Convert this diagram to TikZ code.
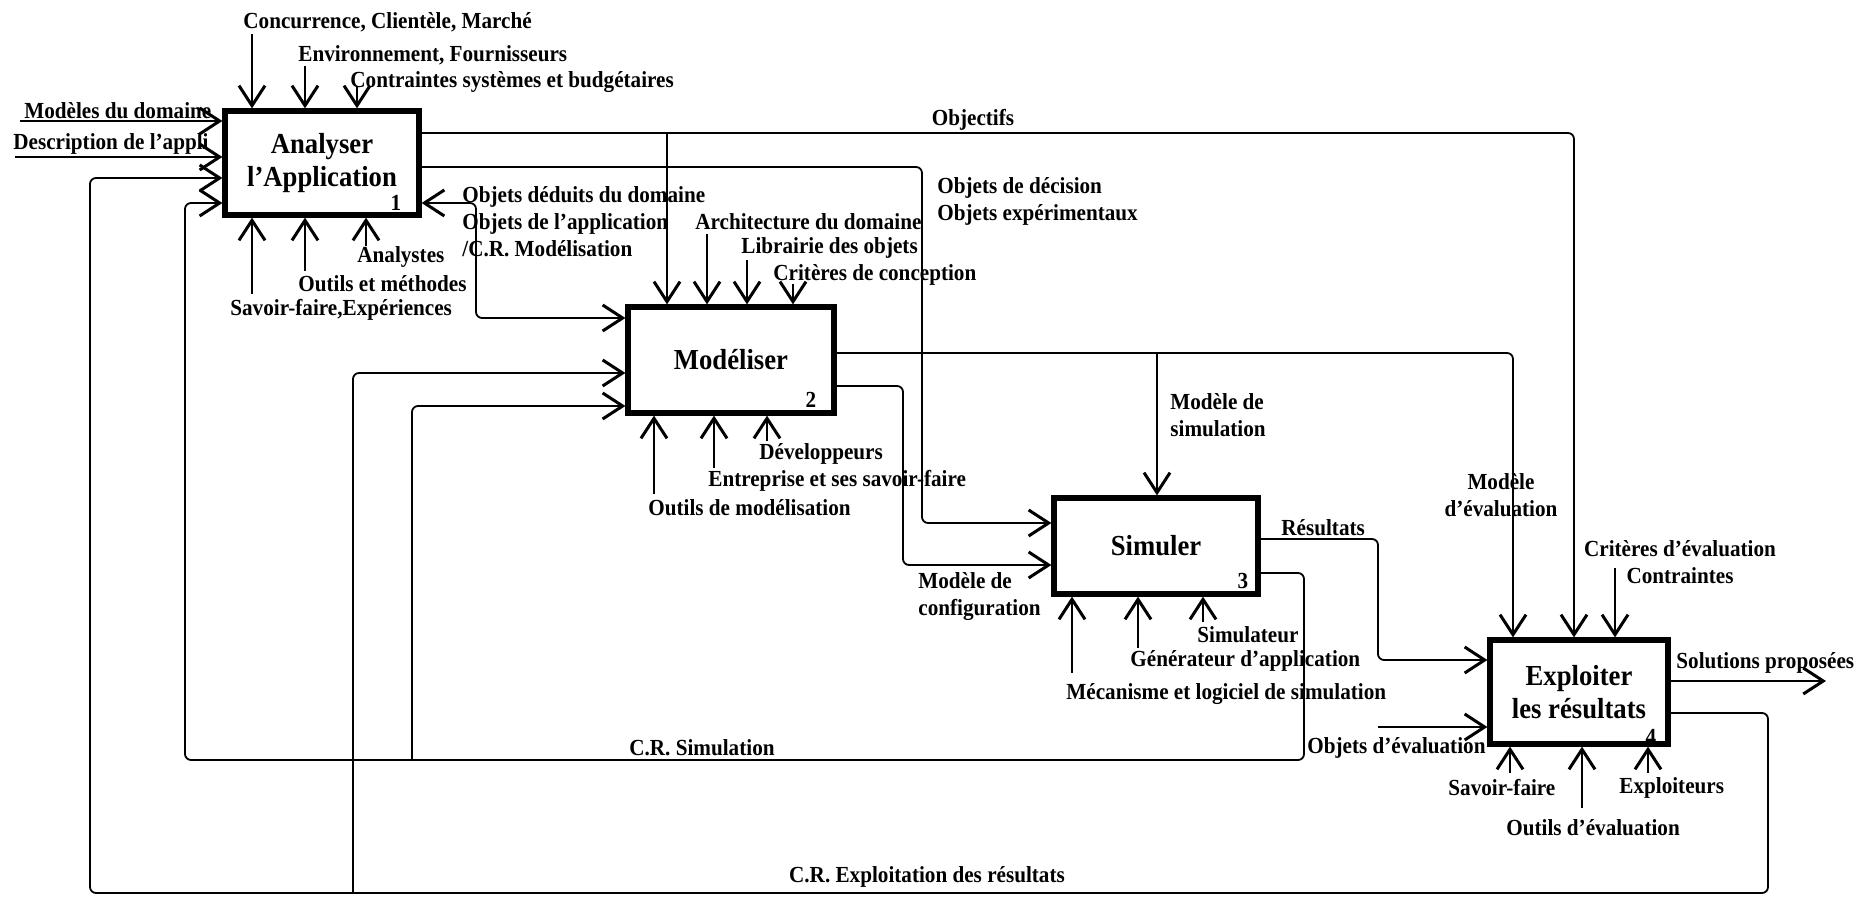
\documentclass[tikz,border=0pt]{standalone}
\usepackage{fontspec}
\setmainfont{Liberation Serif}[FakeStretch=0.92]
\usetikzlibrary{arrows.meta,calc}
\tikzset{
  >={Straight Barb[length=10pt,width=13pt,line width=1.5pt]},
  act/.style={draw, line width=2.6pt, align=center, inner sep=0pt,
              font=\bfseries\fontsize{14.5}{16.5}\selectfont},
  num/.style={font=\bfseries\fontsize{11.5}{13}\selectfont, inner sep=0pt},
  tag/.style={font=\bfseries\fontsize{11.5}{13.5}\selectfont, inner sep=1pt, align=left},
  arrow/.style={->, line width=0.9pt, rounded corners=3pt},
}

\begin{document}
\begin{tikzpicture}[x=0.5pt, y=-0.5pt]
  \useasboundingbox (0,0) rectangle (1859,897);

  % activities
  \node[act, minimum width=97pt, minimum height=52pt] (A1) at (322,163) {Analyser\\l'Application};
  \node[act, minimum width=103pt, minimum height=53pt] (A2) at (731,360) {Modéliser};
  \node[act, minimum width=102pt, minimum height=48pt] (A3) at (1156,546) {Simuler};
  \node[act, minimum width=89pt, minimum height=52pt] (A4) at (1579,692) {Exploiter\\les résultats};
  \node[num] (n1) at (396,203) {1};
  \node[num] (n2) at (811,400) {2};
  \node[num] (n3) at (1243,581) {3};
  \node[num] (n4) at (1651,737) {4};

  % box 1
  \node[tag, anchor=west] (tConc) at (241,22) {Concurrence, Clientèle, Marché};
  \node[tag, anchor=west] (tEnv) at (296,55) {Environnement, Fournisseurs};
  \node[tag, anchor=west] (tCtr) at (348,82) {Contraintes systèmes et budgétaires};
  \coordinate (cConc) at (252,34);
  \coordinate (cEnv) at (305,66);
  \coordinate (cCtr) at (357,86);
  \draw[arrow] (cConc) -- (cConc |- A1.north);
  \draw[arrow] (cEnv) -- (cEnv |- A1.north);
  \draw[arrow] (cCtr) -- (cCtr |- A1.north);

  \node[tag, anchor=south west] (tMod) at (22,121) {Modèles du domaine};
  \node[tag, anchor=south west] (tDesc) at (11,157) {Description de l'appli};
  \coordinate (iMod) at (20,121);
  \coordinate (iDesc) at (15,157);
  \draw[arrow] (iMod) -- (iMod -| A1.west);
  \draw[arrow] (iDesc) -- (iDesc -| A1.west);

  \node[tag, anchor=west] (tSav) at (228,310) {Savoir-faire,Expériences};
  \node[tag, anchor=west] (tOut) at (296,284) {Outils et méthodes};
  \node[tag, anchor=west] (tAna) at (355,257) {Analystes};
  \coordinate (mSav) at (252,294);
  \coordinate (mOut) at (305,271);
  \coordinate (mAna) at (366,246);
  \draw[arrow] (mSav) -- (mSav |- A1.south);
  \draw[arrow] (mOut) -- (mOut |- A1.south);
  \draw[arrow] (mAna) -- (mAna |- A1.south);

  \coordinate (jObj) at (667,133);
  \coordinate (kObj) at (1574,133);
  \draw[arrow] (A1.east |- kObj) -- (kObj) -- (kObj |- A4.north);
  \draw[arrow] (jObj) -- (jObj |- A2.north);
  \node[tag] (tObj) at (973,120) {Objectifs};

  \coordinate (kDec) at (922,167);
  \coordinate (kDec2) at (922,523);
  \draw[arrow] (A1.east |- kDec) -- (kDec) -- (kDec2) -- (kDec2 -| A3.west);
  \node[tag, anchor=west] (tDec) at (935,201) {Objets de décision\\Objets expérimentaux};

  \coordinate (kRet) at (476,203);
  \coordinate (kRet2) at (476,318);
  \draw[arrow, <->] (kRet -| A1.east) -- (kRet) -- (kRet2) -- (kRet2 -| A2.west);
  \node[tag, anchor=west] (tRet) at (460,222) {Objets déduits du domaine\\Objets de l'application\\/C.R. Modélisation};

  % box 2
  \node[tag, anchor=west] (tArc) at (693,222) {Architecture du domaine};
  \node[tag, anchor=west] (tLib) at (739,248) {Librairie des objets};
  \node[tag, anchor=west] (tCri) at (771,275) {Critères de conception};
  \coordinate (cArc) at (707,234);
  \coordinate (cLib) at (747,260);
  \coordinate (cCri) at (793,284);
  \draw[arrow] (cArc) -- (cArc |- A2.north);
  \draw[arrow] (cLib) -- (cLib |- A2.north);
  \draw[arrow] (cCri) -- (cCri |- A2.north);

  \node[tag, anchor=west] (tOmod) at (646,508) {Outils de modélisation};
  \node[tag, anchor=west] (tEnt) at (706,481) {Entreprise et ses savoir-faire};
  \node[tag, anchor=west] (tDev) at (757,454) {Développeurs};
  \coordinate (mOmod) at (654,494);
  \coordinate (mEnt) at (714,468);
  \coordinate (mDev) at (767,441);
  \draw[arrow] (mOmod) -- (mOmod |- A2.south);
  \draw[arrow] (mEnt) -- (mEnt |- A2.south);
  \draw[arrow] (mDev) -- (mDev |- A2.south);

  \coordinate (jSim) at (1157,353);
  \coordinate (kEva) at (1513,353);
  \draw[arrow] (A2.east |- kEva) -- (kEva) -- (kEva |- A4.north);
  \draw[arrow] (jSim) -- (jSim |- A3.north);
  \node[tag, anchor=west] (tSim) at (1168,415) {Modèle de\\simulation};
  \node[tag, align=center] (tEva) at (1501,495) {Modèle\\d'évaluation};

  \coordinate (kCfg) at (903,386);
  \coordinate (kCfg2) at (903,565);
  \draw[arrow] (A2.east |- kCfg) -- (kCfg) -- (kCfg2) -- (kCfg2 -| A3.west);
  \node[tag, anchor=west] (tCfg) at (916,597) {Modèle de\\configuration};

  % box 3
  \node[tag, anchor=west] (tMec) at (1064,694) {Mécanisme et logiciel de simulation};
  \node[tag, anchor=west] (tGen) at (1128,661) {Générateur d'application};
  \node[tag, anchor=west] (tSimu) at (1195,635) {Simulateur};
  \coordinate (mMec) at (1072,673);
  \coordinate (mGen) at (1138,648);
  \coordinate (mSimu) at (1203,622);
  \draw[arrow] (mMec) -- (mMec |- A3.south);
  \draw[arrow] (mGen) -- (mGen |- A3.south);
  \draw[arrow] (mSimu) -- (mSimu |- A3.south);

  \coordinate (kRes) at (1378,539);
  \coordinate (kRes2) at (1378,660);
  \draw[arrow] (A3.east |- kRes) -- (kRes) -- (kRes2) -- (kRes2 -| A4.west);
  \node[tag, anchor=west] (tRes) at (1279,528) {Résultats};

  \coordinate (kCrs) at (1304,573);
  \coordinate (kCrs2) at (1304,760);
  \coordinate (kCrs3) at (185,760);
  \coordinate (kCrs4) at (185,203);
  \coordinate (jCrs) at (412,760);
  \coordinate (jCrs2) at (412,406);
  \draw[arrow] (A3.east |- kCrs) -- (kCrs) -- (kCrs2) -- (kCrs3) -- (kCrs4) -- (kCrs4 -| A1.west);
  \draw[arrow] (jCrs) -- (jCrs2) -- (jCrs2 -| A2.west);
  \node[tag] (tCrs) at (702,748) {C.R. Simulation};

  % box 4
  \node[tag, align=center] (tCri4) at (1680,562) {Critères d'évaluation\\Contraintes};
  \coordinate (cCri4) at (1615,568);
  \draw[arrow] (cCri4) -- (cCri4 |- A4.north);

  \coordinate (iObjE) at (1378,727);
  \draw[arrow] (iObjE) -- (iObjE -| A4.west);
  \node[tag, anchor=west] (tObjE) at (1305,748) {Objets d'évaluation};

  \coordinate (oSol) at (1826,681);
  \draw[arrow] (A4.east |- oSol) -- (oSol);
  \node[tag, anchor=west] (tSol) at (1674,663) {Solutions proposées};

  \node[tag, anchor=west] (tSavE) at (1446,788) {Savoir-faire};
  \node[tag, anchor=west] (tOutE) at (1504,828) {Outils d'évaluation};
  \node[tag, anchor=west] (tExp) at (1617,788) {Exploiteurs};
  \coordinate (mSavE) at (1510,773);
  \coordinate (mOutE) at (1582,808);
  \coordinate (mExp) at (1648,773);
  \draw[arrow] (mSavE) -- (mSavE |- A4.south);
  \draw[arrow] (mOutE) -- (mOutE |- A4.south);
  \draw[arrow] (mExp) -- (mExp |- A4.south);

  \coordinate (kCre) at (1768,713);
  \coordinate (kCre2) at (1768,893);
  \coordinate (kCre3) at (90,893);
  \coordinate (kCre4) at (90,178);
  \coordinate (jCre) at (353,893);
  \coordinate (jCre2) at (353,373);
  \draw[arrow] (A4.east |- kCre) -- (kCre) -- (kCre2) -- (kCre3) -- (kCre4) -- (kCre4 -| A1.west);
  \draw[arrow] (jCre) -- (jCre2) -- (jCre2 -| A2.west);
  \node[tag] (tCre) at (927,877) {C.R. Exploitation des résultats};
\end{tikzpicture}
\end{document}
